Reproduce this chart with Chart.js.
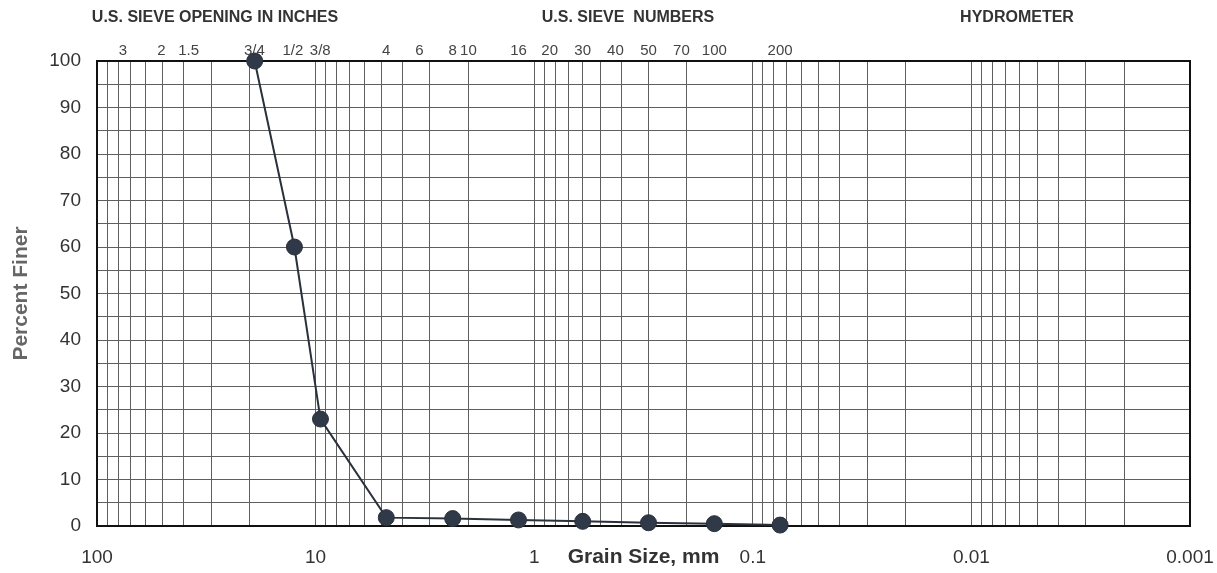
<!DOCTYPE html>
<html>
<head>
<meta charset="utf-8">
<script src="https://cdn.jsdelivr.net/npm/chart.js@4"></script>
<style>
  html, body { margin: 0; padding: 0; background: #fff; }
  #wrap { width: 1217px; height: 573px; }
</style>
</head>
<body>
<div id="wrap"><canvas id="myChart"></canvas></div>
<script>
// grain size (mm) and percent finer
var grainSize = [19.0, 12.5, 9.5, 4.75, 2.36, 1.18, 0.6, 0.3, 0.15, 0.075];
var percentFiner = [100, 60, 23, 1.8, 1.6, 1.3, 1.0, 0.7, 0.5, 0.2];

// sieve labels along the top
var sieveSizes = [76.2, 50.8, 38.1, 19.05, 12.7, 9.525, 4.75, 3.35, 2.36, 2.0, 1.18, 0.85, 0.6, 0.425, 0.3, 0.212, 0.15, 0.075];
var sieveLabels = ['3', '2', '1.5', '3/4', '1/2', '3/8', '4', '6', '8', '10', '16', '20', '30', '40', '50', '70', '100', '200'];

// log grid: decades and steps inside a decade
var decades = [0.001, 0.01, 0.1, 1, 10];
var steps = [1, 2, 3, 4, 5, 6, 7, 8, 9];
var xMajorLabels = ['100', '10', '1', '0.1', '0.01', '0.001'];

var headers = [
    { text: 'U.S. SIEVE OPENING IN INCHES', x: 215 },
    { text: 'U.S. SIEVE  NUMBERS', x: 628 },
    { text: 'HYDROMETER', x: 1017 }
];

var gridColor = '#5f5f5f';
var tickFont = { family: '"Liberation Sans Narrow", "Liberation Sans", Arial, sans-serif', size: 19 };

// Plugin para os títulos de cima
var headerPlugin = {
    id: 'headers',
    afterDraw: function(chart) {
        var ctx = chart.ctx;
        ctx.save();
        ctx.font = 'bold 16px "Liberation Sans", Arial, sans-serif';
        ctx.fillStyle = '#333';
        ctx.textAlign = 'center';
        ctx.textBaseline = 'middle';
        headers.forEach(function(h) {
            ctx.fillText(h.text, h.x, 18);
        });
        ctx.restore();
    }
};

function isMajor(v) {
    var l = Math.log10(v);
    return Math.abs(l - Math.round(l)) < 1e-9;
}

window.onload = function() {
    var ctx = document.getElementById('myChart').getContext('2d');

    var myChart = new Chart(ctx, {
        type: 'scatter',
        data: {
            datasets: [{
                data: grainSize.map(function(g, i) { return { x: g, y: percentFiner[i] }; }),
                showLine: true,
                clip: false,
                borderColor: '#2a313c',
                borderWidth: 2,
                pointRadius: 8,
                pointBackgroundColor: '#2f3948',
                pointBorderColor: '#2a313c',
                pointBorderWidth: 1,
                tension: 0,
                xAxisID: 'x',
                yAxisID: 'y'
            }]
        },
        options: {
            responsive: true,
            maintainAspectRatio: false,
            animation: false,
            layout: { padding: 0 },
            plugins: {
                legend: { display: false },
                tooltip: { enabled: false }
            },
            scales: {
                x: {
                    type: 'logarithmic',
                    position: 'bottom',
                    reverse: true,
                    min: 0.001,
                    max: 100,
                    afterBuildTicks: function(axis) {
                        var t = [];
                        decades.forEach(function(d) {
                            steps.forEach(function(s) { t.push({ value: d * s }); });
                        });
                        t.push({ value: 100 });
                        axis.ticks = t;
                    },
                    afterFit: function(axis) { axis.height = 47; },
                    ticks: {
                        autoSkip: false,
                        maxRotation: 0,
                        padding: 20,
                        color: '#333',
                        font: tickFont,
                        callback: function(value) {
                            if (!isMajor(value)) return '';
                            var k = Math.round(2 - Math.log10(value));
                            return xMajorLabels[k];
                        }
                    },
                    grid: { color: gridColor, lineWidth: 1, drawTicks: false },
                    border: { display: true, color: '#111', width: 2 },
                    title: {
                        display: true,
                        text: 'Grain Size, mm',
                        color: '#333',
                        font: { family: '"Liberation Sans", Arial, sans-serif', size: 21, weight: 'bold' },
                        padding: { top: 0, bottom: 3 }
                    }
                },
                x2: {
                    type: 'logarithmic',
                    position: 'top',
                    reverse: true,
                    min: 0.001,
                    max: 100,
                    afterBuildTicks: function(axis) {
                        axis.ticks = sieveSizes.map(function(v) { return { value: v }; });
                    },
                    afterFit: function(axis) { axis.height = 61; },
                    ticks: {
                        autoSkip: false,
                        maxRotation: 0,
                        padding: 1,
                        color: '#444',
                        font: { family: '"Liberation Sans", Arial, sans-serif', size: 15 },
                        callback: function(value, index) { return sieveLabels[index]; }
                    },
                    grid: { display: false, drawTicks: false },
                    border: { display: true, color: '#111', width: 2 }
                },
                y: {
                    min: 0,
                    max: 100,
                    afterFit: function(axis) { axis.width = 97; },
                    ticks: {
                        stepSize: 5,
                        autoSkip: false,
                        padding: 16,
                        color: '#333',
                        font: tickFont,
                        callback: function(value) { return value % 10 === 0 ? value : ''; }
                    },
                    grid: { color: gridColor, lineWidth: 1, drawTicks: false },
                    border: { display: true, color: '#111', width: 2 },
                    title: {
                        display: true,
                        text: 'Percent Finer',
                        color: '#666',
                        font: { family: '"Liberation Sans", Arial, sans-serif', size: 21, weight: 'bold' },
                        padding: { top: 9, bottom: 0 }
                    }
                },
                y2: {
                    position: 'right',
                    min: 0,
                    max: 100,
                    afterFit: function(axis) { axis.width = 27; },
                    ticks: { display: false },
                    grid: { display: false, drawTicks: false },
                    border: { display: true, color: '#111', width: 2 }
                }
            }
        },
        plugins: [headerPlugin]
    });
};
</script>
</body>
</html>
